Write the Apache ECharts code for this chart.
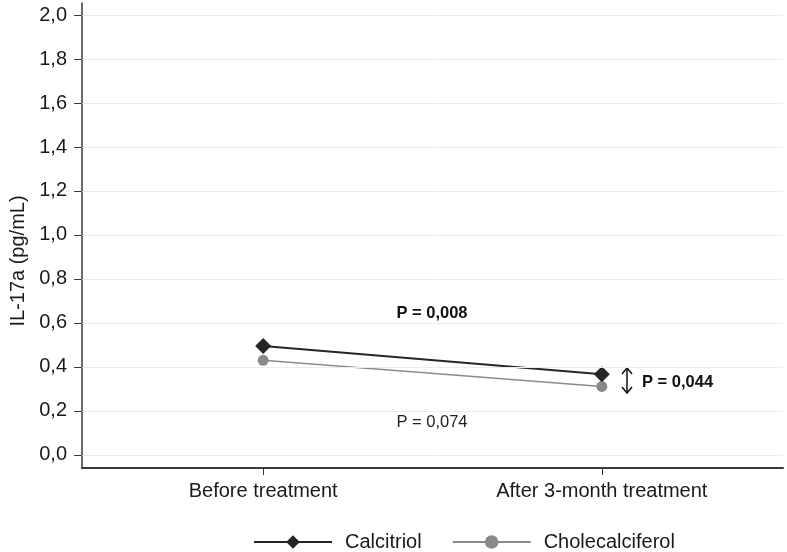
<!DOCTYPE html>
<html>
<head>
<meta charset="utf-8">
<script src="https://cdn.jsdelivr.net/npm/echarts@6/dist/echarts.min.js"></script>
<style>html,body{margin:0;padding:0;background:#fff}#c{width:787px;height:552px}</style>
</head>
<body>
<div id="c"></div>
<script>
const categories = ['Before treatment', 'After 3-month treatment'];
const categoryPositions = [1, 2];
const calcitriol = [0.495, 0.366];
const cholecalciferol = [0.430, 0.311];
const yTicks = [0, 0.2, 0.4, 0.6, 0.8, 1.0, 1.2, 1.4, 1.6, 1.8, 2.0];
const seriesNames = ['Calcitriol', 'Cholecalciferol'];
const pLabels = ['P = 0,008', 'P = 0,074', 'P = 0,044'];

const FONT = '"Liberation Sans", Arial, sans-serif';
const toPairs = arr => arr.map((v, i) => [categoryPositions[i], v]);

const chart = echarts.init(document.getElementById('c'), null, {renderer: 'canvas'});
chart.setOption({
  animation: false,
  backgroundColor: '#fff',
  grid: {left: 82, right: 4, top: 3, bottom: 84, containLabel: false},
  xAxis: {
    type: 'value', min: 0.465, max: 2.535,
    axisLine: {show: true, onZero: false, lineStyle: {color: '#3a3a3a', width: 2}},
    axisTick: {show: true, length: 7, customValues: categoryPositions, lineStyle: {color: '#3a3a3a', width: 1}},
    axisLabel: {customValues: categoryPositions, margin: 13, fontSize: 20, fontFamily: FONT, color: '#1a1a1a',
      formatter: v => categories[categoryPositions.indexOf(v)] || ''},
    splitLine: {show: false}
  },
  yAxis: {
    type: 'value', min: -0.06, max: 2.055,
    axisLine: {show: true, onZero: false, lineStyle: {color: '#3a3a3a', width: 1.5}},
    axisTick: {show: true, length: 8, customValues: yTicks, lineStyle: {color: '#3a3a3a', width: 1}},
    axisLabel: {customValues: yTicks, margin: 15, fontSize: 20, fontFamily: FONT, color: '#1a1a1a',
      formatter: v => v.toFixed(1).replace('.', ',')},
    splitLine: {show: false}
  },
  legend: {
    data: seriesNames,
    left: 253, top: 532, padding: 0,
    itemWidth: 78, itemHeight: 17, itemGap: 30,
    textStyle: {fontSize: 20, fontFamily: FONT, color: '#1a1a1a', padding: [0, 0, 0, 8]}
  },
  series: [
    {
      name: 'grid', type: 'line', data: [], z: 0, silent: true,
      markLine: {
        silent: true, symbol: ['none', 'none'], label: {show: false},
        lineStyle: {color: '#ececec', width: 1, type: 'solid'},
        data: yTicks.map(v => ({yAxis: v}))
      }
    },
    {
      name: seriesNames[0], type: 'line', data: toPairs(calcitriol), z: 4,
      symbol: 'diamond', symbolSize: 16,
      lineStyle: {color: '#262626', width: 2},
      itemStyle: {color: '#262626'}
    },
    {
      name: seriesNames[1], type: 'line', data: toPairs(cholecalciferol), z: 3,
      symbol: 'circle', symbolSize: 11,
      lineStyle: {color: '#8a8a8a', width: 1.6},
      itemStyle: {color: '#8a8a8a'}
    }
  ],
  graphic: [
    {type: 'text', x: 18, y: 261, rotation: Math.PI / 2,
      style: {text: 'IL-17a (pg/mL)', font: '20px ' + FONT, fill: '#1a1a1a', textAlign: 'center', textVerticalAlign: 'middle'}},
    {type: 'text', x: 432, y: 313,
      style: {text: pLabels[0], font: 'bold 16.5px ' + FONT, fill: '#111', textAlign: 'center', textVerticalAlign: 'middle'}},
    {type: 'text', x: 432, y: 422,
      style: {text: pLabels[1], font: '16.5px ' + FONT, fill: '#222', textAlign: 'center', textVerticalAlign: 'middle'}},
    {type: 'text', x: 642, y: 382,
      style: {text: pLabels[2], font: 'bold 16.5px ' + FONT, fill: '#111', textAlign: 'left', textVerticalAlign: 'middle'}},
    {type: 'polyline', shape: {points: [[627, 368], [627, 393]]}, style: {stroke: '#111', lineWidth: 1.5, fill: null}},
    {type: 'polyline', shape: {points: [[622, 374], [627, 368], [632, 374]]}, style: {stroke: '#111', lineWidth: 1.5, fill: null}},
    {type: 'polyline', shape: {points: [[622, 387], [627, 393], [632, 387]]}, style: {stroke: '#111', lineWidth: 1.5, fill: null}}
  ]
});
</script>
</body>
</html>
